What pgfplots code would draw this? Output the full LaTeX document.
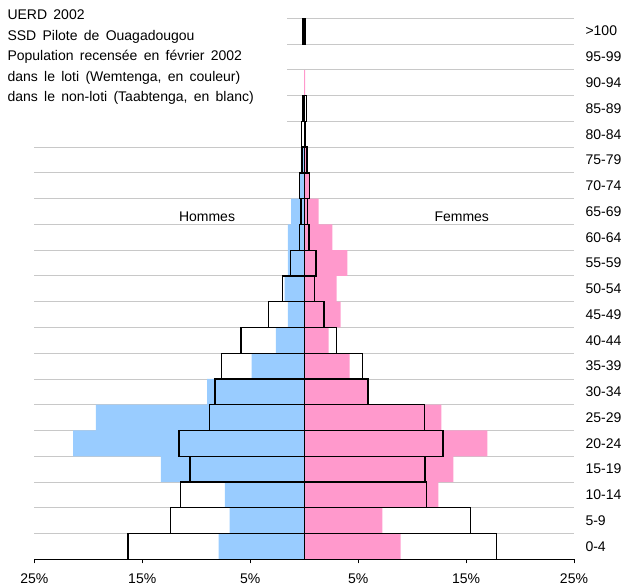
\documentclass[border=0pt]{standalone}
\usepackage{fontspec}
\setmainfont{Liberation Sans}
\usepackage{pgfplots}
\pgfplotsset{compat=1.18}
\definecolor{homme}{HTML}{99CCFF}
\definecolor{femme}{HTML}{FF99CC}
\definecolor{grille}{HTML}{C8C8C8}
\newcommand{\txt}{\fontsize{14}{17}\selectfont}
\newcommand{\titre}{\fontsize{14}{17}\selectfont\spaceskip=6.3pt plus 1pt\relax}
\begin{document}
\begin{tikzpicture}
\path[use as bounding box] (0,0) rectangle (626pt,586pt);
\begin{axis}[
  at={(34.3pt,26.7pt)}, anchor=south west,
  scale only axis, width=539.7pt, height=541pt,
  xmin=-25, xmax=25, ymin=-0.5, ymax=20.5,
  xbar, bar width=1, bar shift=0,
  axis x line*=bottom, axis y line*=right,
  x axis line style={black, line width=0.9pt, -},
  y axis line style={draw=none},
  xtick={-25,-15,-5,5,15,25},
  xticklabels={25\%,15\%,5\%,5\%,15\%,25\%},
  ytick={0,...,20},
  yticklabels={0-4,5-9,10-14,15-19,20-24,25-29,30-34,35-39,40-44,45-49,50-54,55-59,60-64,65-69,70-74,75-79,80-84,85-89,90-94,95-99,>100},
  minor ytick={0.5,1.5,...,20.5},
  yminorgrids, minor grid style={grille, line width=0.9pt},
  tick align=outside, major tick length=4pt, minor tick length=0pt,
  xtick style={black, line width=0.9pt},
  ytick style={draw=none},
  /pgf/number format/assume math mode=true,
  xticklabel style={font=\txt, inner sep=0.5pt, yshift=-9.5pt},
  yticklabel style={font=\txt, anchor=west, xshift=4pt},
]
% loti (Wemtenga) : hommes
\addplot[fill=homme, draw=none] coordinates {
  (-7.92,0) (-6.90,1) (-7.34,2) (-13.27,3) (-21.40,4) (-19.30,5) (-9.00,6)
  (-4.87,7) (-2.61,8) (-1.50,9) (-1.81,10) (-1.50,11) (-1.50,12) (-1.20,13)
  (-0.42,14) (-0.30,15)
};
% loti (Wemtenga) : femmes
\addplot[fill=femme, draw=none] coordinates {
  (8.94,0) (7.25,1) (12.44,2) (13.83,3) (16.98,4) (12.71,5) (5.85,6)
  (4.22,7) (2.27,8) (3.38,9) (3.01,10) (4.00,11) (2.62,12) (1.35,13)
  (0.45,14) (0.25,15) (0.08,18)
};
% non-loti (Taabtenga) : hommes
\addplot[draw=black, fill=none, line width=1.3pt] coordinates {
  (-16.33,0) (-12.37,1) (-11.47,2) (-10.58,3) (-11.60,4) (-8.79,5) (-8.27,6)
  (-7.65,7) (-5.86,8) (-3.29,9) (-2.02,10) (-1.28,11) (-0.45,12) (-0.28,13)
  (-0.40,14) (-0.20,15) (-0.25,16) (-0.10,17) (-0.10,20)
};
% non-loti (Taabtenga) : femmes
\addplot[draw=black, fill=none, line width=1.3pt] coordinates {
  (17.81,0) (15.40,1) (11.32,2) (11.20,3) (12.87,4) (11.17,5) (5.92,6)
  (5.42,7) (2.98,8) (1.84,9) (0.97,10) (1.10,11) (0.45,12) (0.28,13)
  (0.50,14) (0.25,15) (0.15,16) (0.20,17) (0.10,20)
};
\node[anchor=base, font=\txt] at (axis cs:-9.0,12.63) {Hommes};
\node[anchor=base, font=\txt] at (axis cs:14.6,12.63) {Femmes};
\end{axis}
% cadre du titre (masque la grille)
\fill[white] (0pt,456pt) rectangle (287pt,586pt);
\node[anchor=base west, inner sep=0pt, font=\titre] at (7.3pt,566pt) {UERD 2002};
\node[anchor=base west, inner sep=0pt, font=\titre] at (7.3pt,545.5pt) {SSD Pilote de Ouagadougou};
\node[anchor=base west, inner sep=0pt, font=\titre] at (7.3pt,525pt) {Population recensée en février 2002};
\node[anchor=base west, inner sep=0pt, font=\titre] at (7.3pt,504.5pt) {dans le loti (Wemtenga, en couleur)};
\node[anchor=base west, inner sep=0pt, font=\titre] at (7.3pt,484pt) {dans le non-loti (Taabtenga, en blanc)};
\end{tikzpicture}
\end{document}
